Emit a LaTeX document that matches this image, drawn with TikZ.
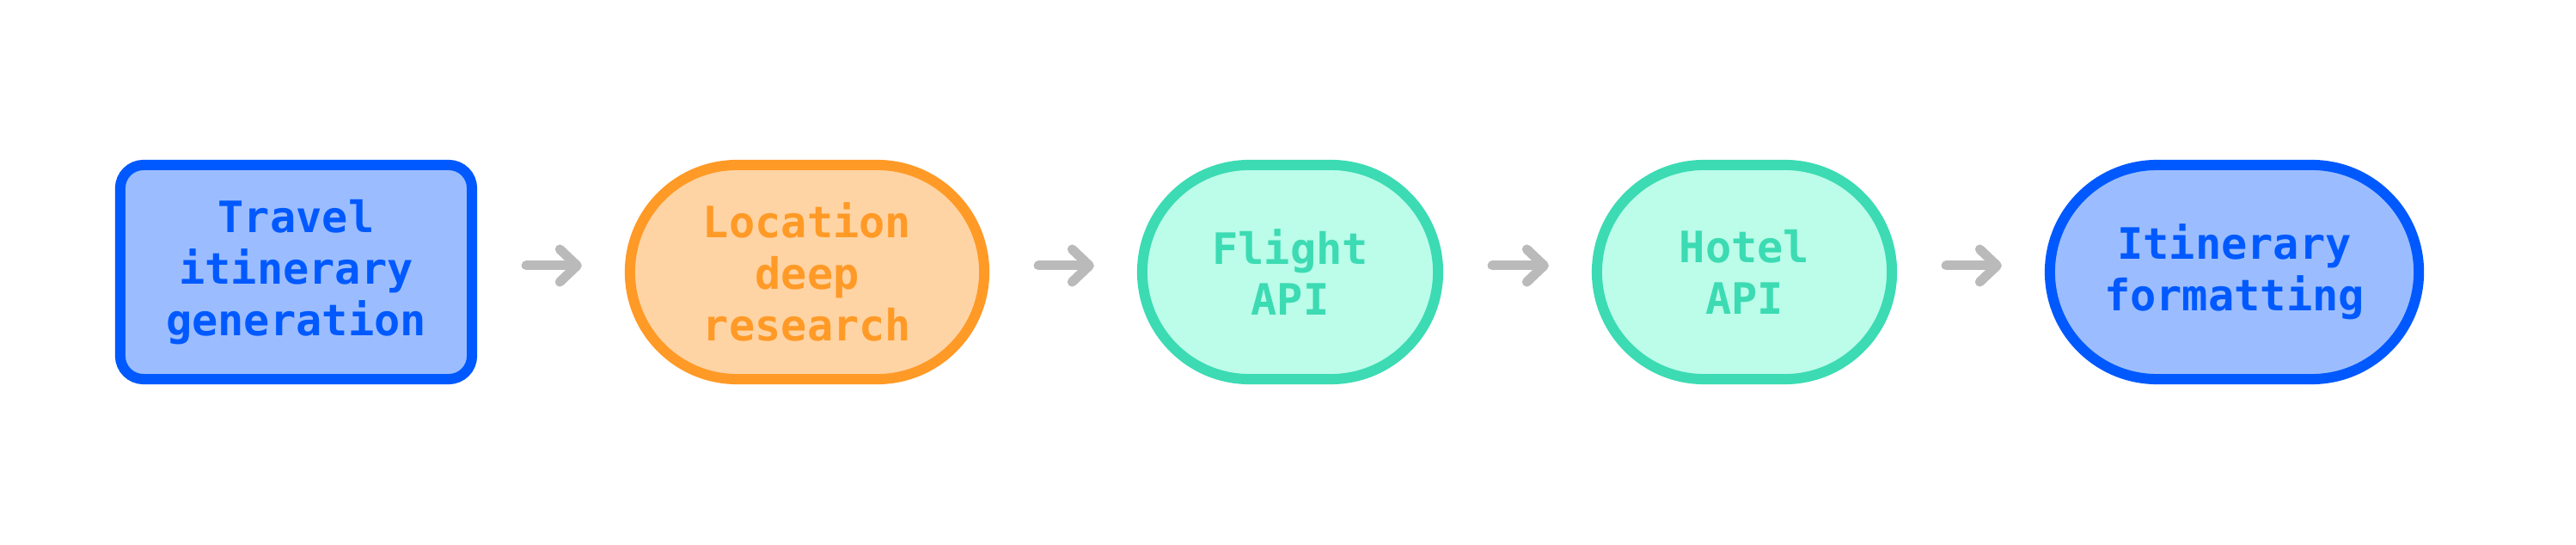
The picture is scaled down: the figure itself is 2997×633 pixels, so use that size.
\documentclass[tikz,border=0pt]{standalone}
\usepackage{fontspec}
\setmonofont{DejaVu Sans Mono}
\usetikzlibrary{shapes.misc,arrows.meta}

\definecolor{blueline}{HTML}{0059FF}
\definecolor{bluefill}{HTML}{9BBDFF}
\definecolor{orangeline}{HTML}{FF9A27}
\definecolor{orangefill}{HTML}{FFD4A4}
\definecolor{tealline}{HTML}{3CDBB3}
\definecolor{tealfill}{HTML}{BBFDE9}
\definecolor{arrowgray}{HTML}{BABABA}

\tikzset{
  stagebox/.style={line width=0.12cm, inner sep=0pt, align=center,
    minimum height=2.49cm,
    font=\ttfamily\bfseries\fontsize{14.3}{17}\selectfont},
  squarebox/.style={stagebox, shape=rectangle, rounded corners=0.27cm},
  pillbox/.style={stagebox, shape=rounded rectangle},
  bluestage/.style={draw=blueline, fill=bluefill, text=blueline},
  orangestage/.style={draw=orangeline, fill=orangefill, text=orangeline},
  tealstage/.style={draw=tealline, fill=tealfill, text=tealline},
  flow/.style={arrowgray, line width=0.11cm, line cap=round,
    -{Straight Barb[round,length=0.2cm,width=0.38cm]},
    shorten <=0.57cm, shorten >=0.5cm}
}

\begin{document}
\begin{tikzpicture}[x=0.01cm,y=0.01cm]

\pgfmathsetmacro{\rowy}{316.5}
\useasboundingbox (0,0) rectangle (2997,633);

% NODES

\node(travel)[squarebox, bluestage, minimum width=4.09cm]
    at (344.5,\rowy) {Travel\\itinerary\\generation};

\node(location)[pillbox, orangestage, minimum width=4.12cm]
    at (939,\rowy) {Location\\deep\\research};

\node(flight)[pillbox, tealstage, minimum width=3.44cm]
    at (1501,\rowy) {Flight\\API};

\node(hotel)[pillbox, tealstage, minimum width=3.43cm]
    at (2029.5,\rowy) {Hotel\\API};

\node(format)[pillbox, bluestage, minimum width=4.29cm]
    at (2599.5,\rowy) {Itinerary\\formatting};

% ARROWS
\foreach \from/\to in {travel/location, location/flight, flight/hotel, hotel/format}
  \draw[flow] ([yshift=0.075cm]\from.east) -- ([yshift=0.075cm]\to.west);

\end{tikzpicture}
\end{document}
